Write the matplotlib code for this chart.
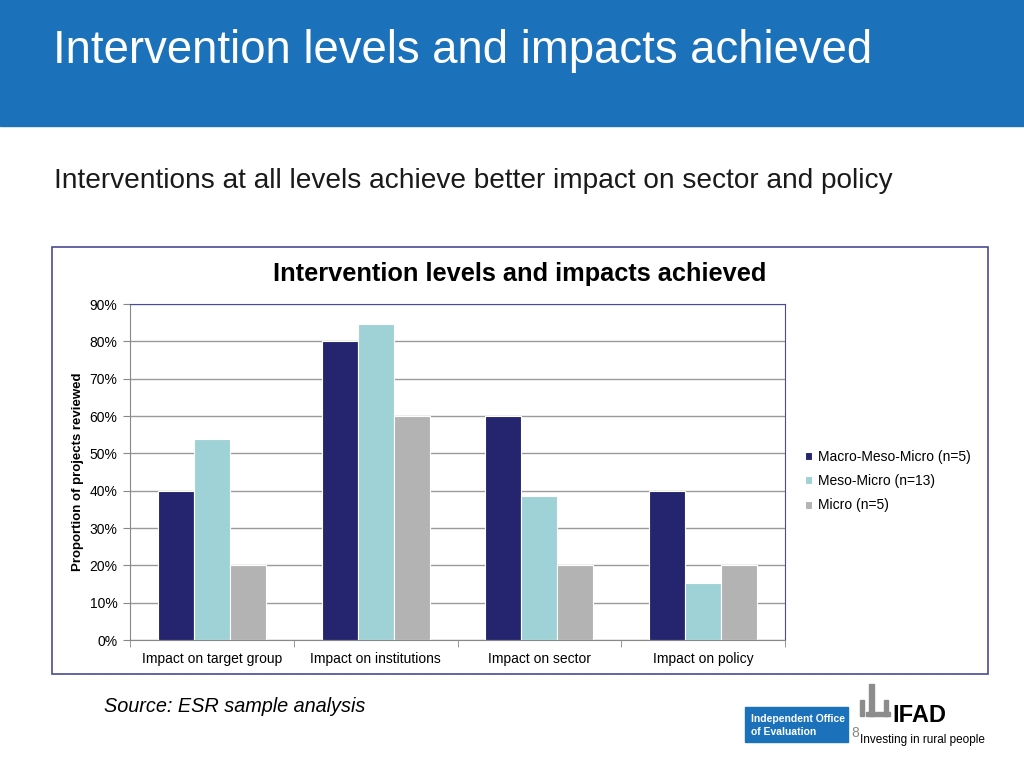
import numpy as np
import matplotlib.pyplot as plt
from matplotlib.patches import Rectangle
from matplotlib.ticker import PercentFormatter

plt.rcParams['font.family'] = ['Liberation Sans', 'DejaVu Sans']

categories = ["Impact on target group", "Impact on institutions",
              "Impact on sector", "Impact on policy"]
series = ["Macro-Meso-Micro (n=5)", "Meso-Micro (n=13)", "Micro (n=5)"]
macro_meso_micro = [40, 80, 60, 40]
meso_micro = [53.8, 84.6, 38.5, 15.4]
micro = [20, 60, 20, 20]
colors = ["#25246f", "#9fd2d6", "#b3b3b3"]

W, H = 1024, 768
fig = plt.figure(figsize=(W / 100, H / 100), dpi=100)


def fx(px):
    return px / W


def fy(py):
    return 1 - py / H


# header band
fig.patches.append(Rectangle((0, fy(126)), 1, 126 / H, transform=fig.transFigure,
                             color="#1b72ba", zorder=0))
fig.text(fx(53), fy(51), "Intervention levels and impacts achieved", color="white",
         fontsize=32.8, va="center", ha="left")
fig.text(fx(54), fy(181), "Interventions at all levels achieve better impact on sector and policy",
         color="#1a1a1a", fontsize=20.2, va="center", ha="left")

# chart frame
fig.patches.append(Rectangle((fx(52), fy(674)), (988 - 52) / W, (674 - 247) / H,
                             transform=fig.transFigure, fill=False,
                             edgecolor="#4a4a95", lw=1.2, zorder=1))
fig.text(fx(520), fy(274), "Intervention levels and impacts achieved",
         fontsize=18.3, fontweight="bold", ha="center", va="center")

ax = fig.add_axes([fx(130), fy(640), 655 / W, 336 / H])
x = np.arange(len(categories))
w = 0.22
for i, (vals, name) in enumerate(zip([macro_meso_micro, meso_micro, micro], series)):
    ax.bar(x + (i - 1) * w, vals, w, color=colors[i], label=name,
           edgecolor="white", linewidth=0.8, zorder=3)

ax.set_xlim(-0.5, len(categories) - 0.5)
ax.set_ylim(0, 90)
ax.set_yticks(np.arange(0, 91, 10))
ax.yaxis.set_major_formatter(PercentFormatter(decimals=0))
ax.grid(axis="y", color="#9a9a9a", lw=1, zorder=0)
ax.set_xticks(x)
ax.set_xticklabels(categories)
ax.set_xticks(np.arange(-0.5, len(categories), 1), minor=True)
ax.tick_params(axis="x", which="major", length=0, labelsize=10, pad=9)
ax.tick_params(axis="x", which="minor", length=5, color="#888888")
ax.tick_params(axis="y", length=5, color="#888888", labelsize=10, pad=4)
for s in ["left", "bottom"]:
    ax.spines[s].set_color("#888888")
for s in ["top", "right"]:
    ax.spines[s].set_color("#4a4a95")
ax.set_ylabel("Proportion of projects reviewed", fontsize=9.5, fontweight="bold", labelpad=0)
ax.yaxis.set_label_coords(-46 / 655, 0.5)

ax.legend(loc="center left", bbox_to_anchor=(1.012, 0.473), frameon=False, fontsize=10,
          handlelength=0.5, handleheight=0.5, handletextpad=0.4, labelspacing=0.75)

# footer
fig.text(fx(104), fy(707), "Source: ESR sample analysis", fontsize=14.3,
         style="italic", va="center")
fig.patches.append(Rectangle((fx(745), fy(742)), 103 / W, 35 / H,
                             transform=fig.transFigure, color="#1b72ba", zorder=1))
fig.text(fx(751), fy(719), "Independent Office", color="white", fontsize=7.5,
         fontweight="bold", va="center")
fig.text(fx(751), fy(732), "of Evaluation", color="white", fontsize=7.5,
         fontweight="bold", va="center")
# simple IFAD mark
for (px, py, pw, ph) in [(869, 684, 5, 32), (866, 712, 24, 4), (860, 700, 4, 16), (884, 700, 4, 16)]:
    fig.patches.append(Rectangle((fx(px), fy(py + ph)), pw / W, ph / H,
                                 transform=fig.transFigure, color="#8c8c8c", zorder=1))
fig.text(fx(892), fy(716), "IFAD", fontsize=17, fontweight="bold", va="center")
fig.text(fx(860), fy(740), "Investing in rural people", fontsize=8.5, va="center")
fig.text(fx(851), fy(733), "8", fontsize=10, color="#888888", va="center")

fig.savefig("out.png", dpi=100)
